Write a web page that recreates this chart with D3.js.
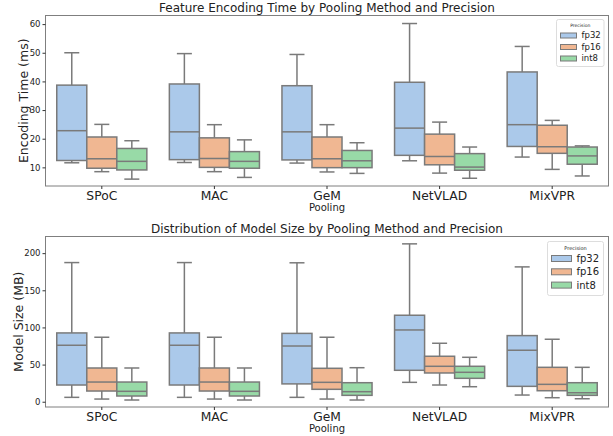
<!DOCTYPE html>
<html>
<head>
<meta charset="utf-8" />
<title>Pooling Method and Precision</title>
<style>
    body { margin: 0; background: #fff; }
    svg text { font-family: "DejaVu Sans", sans-serif; fill: #222; }
</style>
<script src="https://d3js.org/d3.v7.min.js"></script>
</head>
<body>
<svg id="chart" width="613" height="436"></svg>
<script>
    // categories
    const poolings = ["SPoC", "MAC", "GeM", "NetVLAD", "MixVPR"];
    const precisions = ["fp32", "fp16", "int8"];
    const colors = ["#abc9ea", "#f0b792", "#98daa7"];

    // box stats per pooling: [whisker low, q1, median, q3, whisker high]
    // encoding time (ms)
    const timeFp32 = [[11.6, 12.4, 22.8, 38.7, 50.0], [11.7, 12.7, 22.4, 39.1, 49.7], [11.5, 12.6, 22.4, 38.5, 49.4], [12.3, 14.2, 23.7, 39.7, 60.2], [13.6, 17.3, 24.9, 43.3, 52.2]];
    const timeFp16 = [[8.5, 9.7, 13.0, 20.6, 25.0], [8.5, 10.0, 13.1, 20.3, 24.9], [8.4, 9.9, 13.0, 20.6, 24.9], [8.0, 10.9, 13.8, 21.6, 25.8], [9.3, 14.9, 17.2, 24.7, 26.4]];
    const timeInt8 = [[5.9, 9.1, 12.1, 16.6, 19.3], [6.5, 9.7, 12.1, 15.5, 19.6], [7.9, 9.9, 12.3, 15.9, 18.6], [6.2, 9.0, 10.1, 14.8, 17.1], [7.0, 11.1, 14.0, 17.1, 17.5]];
    const timeTicks = [10, 20, 30, 40, 50, 60];

    // model size (MB)
    const sizeFp32 = [[5.9, 22.5, 76.0, 92.6, 187.3], [5.9, 22.5, 76.0, 92.6, 187.3], [5.9, 24.0, 75.0, 92.0, 187.0], [26.1, 42.3, 96.6, 116.4, 212.5], [9.0, 20.7, 69.3, 89.0, 181.5]];
    const sizeFp16 = [[3.6, 14.4, 26.5, 45.4, 86.8], [3.6, 14.4, 26.5, 45.4, 86.8], [3.6, 16.7, 26.1, 45.0, 86.8], [22.5, 38.7, 47.7, 61.2, 78.7], [5.4, 14.8, 23.4, 46.3, 84.1]];
    const sizeInt8 = [[2.3, 7.7, 14.0, 26.5, 45.4], [2.3, 7.7, 14.0, 26.5, 45.4], [2.3, 8.6, 13.5, 25.6, 45.8], [20.2, 31.5, 39.6, 47.7, 59.8], [4.0, 8.6, 12.1, 25.6, 46.3]];
    const sizeTicks = [0, 50, 100, 150, 200];

    const svg = d3.select("#chart");
    const left = 45.5, right = 608.5;
    const lineColor = "#7a7a7a";

    function drawPanel(p) {
        const g = svg.append("g");

        const x = d3.scaleBand().domain(poolings).range([left, right]);
        const bw = x.bandwidth();
        const xInner = d3.scaleBand().domain(precisions).range([0.1 * bw, 0.9 * bw]);
        const y = d3.scaleLinear().domain(p.domain).range([p.bottom, p.top]);

        // boxes
        p.series.forEach((stats, si) => {
            const boxW = xInner.bandwidth();
            stats.forEach((s, ci) => {
                const x0 = x(poolings[ci]) + xInner(precisions[si]);
                const cx = x0 + boxW / 2;
                const box = g.append("g");
                // whiskers
                box.append("line").attr("x1", cx).attr("x2", cx).attr("y1", y(s[0])).attr("y2", y(s[1]));
                box.append("line").attr("x1", cx).attr("x2", cx).attr("y1", y(s[3])).attr("y2", y(s[4]));
                box.append("line").attr("x1", cx - boxW / 4).attr("x2", cx + boxW / 4).attr("y1", y(s[0])).attr("y2", y(s[0]));
                box.append("line").attr("x1", cx - boxW / 4).attr("x2", cx + boxW / 4).attr("y1", y(s[4])).attr("y2", y(s[4]));
                box.append("rect")
                    .attr("x", x0).attr("width", boxW)
                    .attr("y", y(s[3])).attr("height", y(s[1]) - y(s[3]))
                    .attr("fill", colors[si]);
                box.append("line").attr("x1", x0).attr("x2", x0 + boxW).attr("y1", y(s[2])).attr("y2", y(s[2]));
                box.selectAll("line, rect").attr("stroke", lineColor).attr("stroke-width", 1.5);
            });
        });

        // frame
        g.append("rect")
            .attr("x", left).attr("y", p.top)
            .attr("width", right - left).attr("height", p.bottom - p.top)
            .attr("fill", "none").attr("stroke", "#7f7f7f").attr("stroke-width", 1);

        // axes
        const yAxis = g.append("g").attr("transform", `translate(${left},0)`)
            .call(d3.axisLeft(y).tickValues(p.ticks).tickSize(3).tickPadding(2));
        yAxis.select(".domain").remove();
        yAxis.selectAll("line").attr("stroke", "#333");
        yAxis.selectAll("text").attr("font-size", 8.5).attr("fill", "#222");

        const xAxis = g.append("g").attr("transform", `translate(0,${p.bottom})`)
            .call(d3.axisBottom(x).tickSize(3).tickPadding(2));
        xAxis.select(".domain").remove();
        xAxis.selectAll("line").attr("stroke", "#333");
        xAxis.selectAll("text").attr("font-size", 12.3).attr("fill", "#111");

        // titles
        g.append("text").attr("x", (left + right) / 2).attr("y", p.top - 4)
            .attr("text-anchor", "middle").attr("font-size", 12).text(p.title);
        g.append("text").attr("x", (left + right) / 2).attr("y", p.bottom + 25)
            .attr("text-anchor", "middle").attr("font-size", 10).text("Pooling");
        g.append("text")
            .attr("transform", `translate(${p.labelX},${(p.top + p.bottom) / 2}) rotate(-90)`)
            .attr("text-anchor", "middle").attr("font-size", 12.5).text(p.yLabel);

        // legend
        const L = p.legend;
        const lg = g.append("g").attr("transform", `translate(${L.x},${L.y})`);
        lg.append("rect").attr("width", L.w).attr("height", L.h)
            .attr("rx", 2).attr("fill", "#fff").attr("fill-opacity", 0.8)
            .attr("stroke", "#ddd");
        lg.append("text").attr("x", L.w / 2).attr("y", L.titleY)
            .attr("text-anchor", "middle").attr("font-size", L.titleSize).attr("fill", "#444").text("Precision");
        precisions.forEach((name, i) => {
            const ry = L.row0 + i * L.rowStep;
            lg.append("rect").attr("x", L.patchX).attr("y", ry - L.patchH / 2)
                .attr("width", L.patchW).attr("height", L.patchH)
                .attr("fill", colors[i]).attr("stroke", lineColor).attr("stroke-width", 1);
            lg.append("text").attr("x", L.patchX + L.patchW + 5).attr("y", ry)
                .attr("dy", "0.35em").attr("font-size", L.fontSize).text(name);
        });
    }

    drawPanel({
        title: "Feature Encoding Time by Pooling Method and Precision",
        yLabel: "Encoding Time (ms)",
        series: [timeFp32, timeFp16, timeInt8],
        ticks: timeTicks,
        domain: [3.5, 63],
        top: 15.5, bottom: 186,
        labelX: 28,
        legend: { x: 556.5, y: 19.5, w: 47.5, h: 47, titleY: 7, titleSize: 4.5, row0: 16, rowStep: 11.5,
                  patchX: 4, patchW: 16, patchH: 5, fontSize: 8.5 }
    });

    drawPanel({
        title: "Distribution of Model Size by Pooling Method and Precision",
        yLabel: "Model Size (MB)",
        series: [sizeFp32, sizeFp16, sizeInt8],
        ticks: sizeTicks,
        domain: [-7.1, 222.4],
        top: 236.5, bottom: 407,
        labelX: 22.5,
        legend: { x: 547.5, y: 241.5, w: 56, h: 54, titleY: 8, titleSize: 5, row0: 17, rowStep: 13.3,
                  patchX: 4, patchW: 20, patchH: 6, fontSize: 10 }
    });
</script>
</body>
</html>
